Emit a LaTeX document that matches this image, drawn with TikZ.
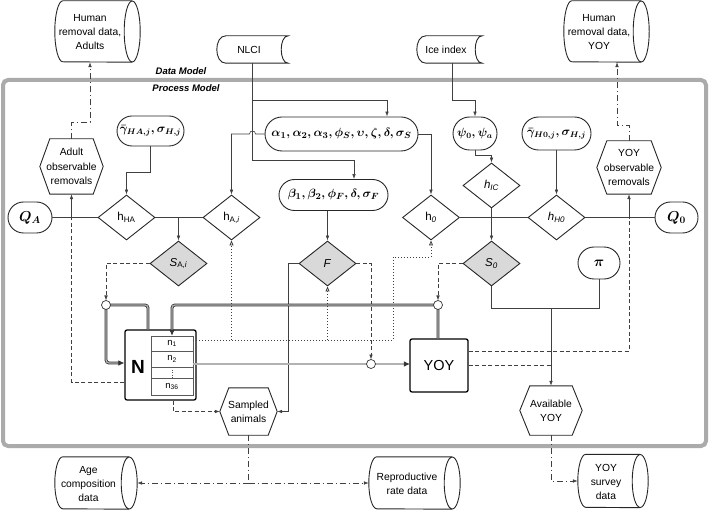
\documentclass[tikz,border=0pt]{standalone}
\usepackage{fontspec}
\setmainfont{Liberation Sans}
\setsansfont{Liberation Sans}
\usepackage{amsmath}
\usetikzlibrary{shapes.geometric,shapes.misc,arrows.meta,calc}
\tikzset{
 shp/.style={draw=black!85, line width=0.9pt},
 txt/.style={font=\fontsize{10.3}{14.3}\selectfont, align=center},
 pill/.style={rounded rectangle, shp, inner sep=0pt},
 mth/.style={font=\fontsize{12}{14}\selectfont\boldmath},
 dia/.style={diamond, shp, inner sep=0pt, font=\fontsize{11.5}{13}\selectfont},
 gdia/.style={dia, fill=black!15},
 boxn/.style={rectangle, rounded corners=2pt, draw=black, line width=1.3pt},
 invis/.style={rectangle, inner sep=0pt, txt},
 ln/.style={draw=black!75, line width=0.6pt},
 dsh/.style={ln, dash pattern=on 4pt off 2.5pt},
 dtd/.style={ln, line width=0.8pt, dash pattern=on 0.9pt off 2.1pt},
 ddot/.style={ln, dash pattern=on 6pt off 3pt on 1pt off 3pt},
 arr/.style={-{Latex[length=5pt,width=3.6pt]}},
 oarr/.style={-{Triangle[open,length=5pt,width=4pt]}},
 dblo/.style={draw=black!80, line width=2.9pt, rounded corners=3pt},
 dbli/.style={draw=black!30, line width=1.3pt, rounded corners=3pt},
 dbarr/.style={draw=black!80, line width=0.75pt, -{Latex[length=6pt,width=5.5pt]}},
 junc/.style={circle, draw=black!80, fill=white, line width=0.7pt, minimum size=9pt, inner sep=0pt},
}
\newcommand\hexdraw[2]{\draw[shp] (#1.west) -- ([xshift=#2]#1.north west) -- ([xshift=-#2]#1.north east) -- (#1.east) -- ([xshift=-#2]#1.south east) -- ([xshift=#2]#1.south west) -- cycle;}
\newcommand\storedraw[1]{\draw[shp] ([xshift=9pt]#1.north west) -- (#1.north east) .. controls ([xshift=-9.3pt]#1.north east) and ([xshift=-9.3pt]#1.south east) .. (#1.south east) -- ([xshift=9pt]#1.south west) .. controls ([xshift=-3pt]#1.south west) and ([xshift=-3pt]#1.north west) .. cycle;}
% cylinder: node name, half height
\newcommand\cyldraw[2]{%
 \draw[shp] ([xshift=-8pt]#1.east) ellipse [x radius=8pt, y radius=#2];
 \draw[shp] ([xshift=-8pt]#1.north east) -- ([xshift=8pt]#1.north west) arc[start angle=90, end angle=270, x radius=8pt, y radius=#2] -- ([xshift=-8pt]#1.south east);}
\begin{document}
\begin{tikzpicture}[x=1pt,y=-1pt]
\useasboundingbox (0,0) rectangle (709,510);
% frame
\draw[line width=4pt, draw=black!33, rounded corners=5pt] (3,80) rectangle (706,446);
\node[font=\bfseries\itshape\fontsize{9.5}{11}\selectfont] (dm) at (181,71) {Data Model};
\node[font=\bfseries\itshape\fontsize{9.5}{11}\selectfont] (pm) at (186,88) {Process Model};

% data cylinders
\node[invis, minimum width=85pt, minimum height=61pt] (cylA) at (97.5,31.5) {};
\cyldraw{cylA}{30.5pt}
\node[txt] (cylAt) at (90,32) {Human\\removal data,\\Adults};
\node[invis, minimum width=85pt, minimum height=61pt] (cylY) at (606.5,31.5) {};
\cyldraw{cylY}{30.5pt}
\node[txt] (cylYt) at (599,32) {Human\\removal data,\\YOY};
\node[invis, minimum width=82pt, minimum height=52pt] (cylAge) at (96,483) {};
\cyldraw{cylAge}{26pt}
\node[txt] (cylAget) at (88.5,484) {Age\\composition\\data};
\node[invis, minimum width=91pt, minimum height=52pt] (cylRep) at (414.5,483) {};
\cyldraw{cylRep}{26pt}
\node[txt] (cylRept) at (407,483.5) {Reproductive\\rate data};
\node[invis, minimum width=70pt, minimum height=53pt] (cylSurv) at (613,481) {};
\cyldraw{cylSurv}{26.5pt}
\node[txt] (cylSurvt) at (606,482) {YOY\\survey\\data};

% stored data
\node[invis, minimum width=71pt, minimum height=27pt] (nlci) at (252.5,49.5) {};
\storedraw{nlci}
\node[txt] (nlcit) at (249,49.5) {NLCI};
\node[invis, minimum width=65pt, minimum height=27pt] (ice) at (449.5,49.5) {};
\storedraw{ice}
\node[txt] (icet) at (446,49.5) {Ice index};

% pills
\node[pill, mth, minimum width=67pt, minimum height=30pt] (gHA) at (150.5,131) {$\bar{\gamma}_{HA,j},\sigma_{H,j}$};
\node[pill, mth, font=\fontsize{13}{15}\selectfont\boldmath, minimum width=153pt, minimum height=34pt] (alpha) at (341.5,134) {$\alpha_1,\alpha_2,\alpha_3,\phi_S,\upsilon,\zeta,\delta,\sigma_S$};
\node[pill, mth, minimum width=44pt, minimum height=33pt] (psi) at (475,133.5) {$\psi_0,\psi_a$};
\node[pill, mth, minimum width=69pt, minimum height=33pt] (gH0) at (556.5,133.5) {$\bar{\gamma}_{H0,j},\sigma_{H,j}$};
\node[pill, mth, font=\fontsize{13}{15}\selectfont\boldmath, minimum width=109pt, minimum height=31pt] (beta) at (333.5,195) {$\beta_1,\beta_2,\phi_F,\delta,\sigma_F$};
\node[pill, mth, font=\fontsize{14}{15}\selectfont\boldmath, minimum width=42pt, minimum height=32pt] (pi) at (599,263) {$\pi$};
\node[pill, mth, font=\fontsize{14}{15}\selectfont\boldmath, minimum width=44pt, minimum height=31pt] (QA) at (30,217.5) {$Q_A$};
\node[pill, mth, font=\fontsize{14}{15}\selectfont\boldmath, minimum width=43pt, minimum height=31pt] (Q0) at (676.5,217.5) {$Q_0$};

% hexagons
\node[invis, minimum width=63pt, minimum height=55pt] (hexA) at (71.5,166.5) {Adult\\observable\\removals};
\hexdraw{hexA}{10pt}
\node[invis, minimum width=64pt, minimum height=53pt] (hexY) at (629,167.5) {YOY\\observable\\removals};
\hexdraw{hexY}{10pt}
\node[invis, minimum width=57pt, minimum height=47pt] (samp) at (248.5,411.5) {Sampled\\animals};
\hexdraw{samp}{9pt}
\node[invis, minimum width=62pt, minimum height=49pt] (avail) at (551,410.5) {Available\\YOY};
\hexdraw{avail}{10pt}

% diamonds
\node[dia, minimum width=57pt, minimum height=45pt] (hHA) at (126.5,217.5) {h\textsubscript{HA}};
\node[dia, minimum width=57pt, minimum height=45pt] (hAi) at (231.5,217.5) {h\textsubscript{A,\textit{i}}};
\node[dia, minimum width=57pt, minimum height=45pt] (h0) at (431,217.5) {h\textsubscript{\textit{0}}};
\node[dia, minimum width=57pt, minimum height=45pt] (hIC) at (491.5,185.5) {\textit{h}\textsubscript{\textit{IC}}};
\node[dia, minimum width=57pt, minimum height=45pt] (hH0) at (556.5,217.5) {\textit{h}\textsubscript{\textit{H0}}};
\node[gdia, minimum width=57pt, minimum height=45pt] (SAi) at (178.5,263.5) {\textit{S}\textsubscript{A,\textit{i}}};
\node[gdia, minimum width=57pt, minimum height=45pt] (F) at (327.5,263.5) {\textit{F}};
\node[gdia, minimum width=57pt, minimum height=45pt] (S0) at (491.5,263.5) {\textit{S}\textsubscript{\textit{0}}};

% N box and YOY box
\node[boxn, minimum width=71pt, minimum height=70pt] (N) at (160.5,365) {};
\node[font=\bfseries\fontsize{19}{20}\selectfont] (Nt) at (138,367) {N};
\node[rectangle, draw=black!65, line width=0.6pt, minimum width=42pt, minimum height=59pt, inner sep=0pt] (tbl) at (172,365.5) {};
\draw[draw=black!65, line width=0.6pt] (151,351) -- (193,351) (151,367) -- (193,367) (151,378) -- (193,378);
\draw[draw=black!65, line width=0.6pt, dash pattern=on 1pt off 1.5pt] (172,367) -- (172,378);
\node[font=\fontsize{9.5}{10}\selectfont] (n1) at (172,343.5) {n\textsubscript{1}};
\node[font=\fontsize{9.5}{10}\selectfont] (n2) at (172,359) {n\textsubscript{2}};
\node[font=\fontsize{9.5}{10}\selectfont] (n36) at (172,386.5) {n\textsubscript{36}};
\node[boxn, minimum width=58pt, minimum height=53pt, font=\fontsize{14.5}{15}\selectfont] (YOY) at (439,365.5) {YOY};

% junction points
\coordinate (c1) at (106,305);
\coordinate (c2) at (438,305);
\coordinate (c3) at (371,364);
\coordinate (t2) at (193.3,364);
\coordinate (y2) at (409.9,364);

% thin connectors
\draw[ddot,arr] (hexA.north) -- (hexA.north |- 0,122) -| ([xshift=-7.5pt]cylA.south);
\draw[ddot,arr] (hexY.north) -- (hexY.north |- 0,125) -| ([xshift=10.5pt]cylY.south);
\draw[ln] (QA.east) -- (hHA.west);
\draw[ln,arr] (hexA.south |- QA.east) -- (hexA.south);
\draw[dsh] (N.west |- 0,382) -| (hexA.south |- QA.east);
\draw[ln,arr] (gHA.south) -- (gHA.south |- 0,172) -| (hHA.north);
\draw[ln] (hHA.east) -- (hAi.west);
\draw[ln,arr] (SAi.north |- hHA.east) -- (SAi.north);
\draw[ln,arr] (nlci.south) |- (387,100) -- (alpha.north -| 387,0);
\draw[ln,arr] (nlci.south) -- (252.5,160) -| (beta.north -| 354,0);
\draw[ln,arr] (alpha.west) -- (255.5,134) .. controls (255.5,130) and (249.5,130) .. (249.5,134) -| (hAi.north);
\draw[ln,arr] (alpha.east) -| (h0.north);
\draw[ln,arr] (ice.south -| 452,0) |- (psi.north |- 0,100) -- (psi.north);
\draw[ln,arr] (psi.south) -- (psi.south |- 0,155) -| (hIC.north);
\draw[ln,arr] (gH0.south) -- (hH0.north);
\draw[ln] (h0.east) -- (hH0.west);
\draw[ln,arr] (hIC.south) -- (S0.north);
\draw[ln] (hH0.east) -- (Q0.west);
\draw[ln,arr] (hexY.south |- Q0.west) -- (hexY.south);
\draw[ln,arr] (beta.south -| F.north) -- (F.north);
\draw[dsh,arr] (SAi.west) -| ([yshift=4.5pt]c1);
\draw[dsh,arr] (S0.west) -| ([yshift=4.5pt]c2);
\draw[dsh,arr] (F.east) -| ([yshift=4.5pt]c3);
\draw[ln,arr] (F.west) -| (samp.east -| 288,0) -- (samp.east);
\draw[ln] (S0.south) -- (S0.south |- 0,308) -| (pi.south);
\draw[ln,arr] (avail.north |- 0,308) -- (avail.north);
\draw[dsh] (YOY.east |- 0,351) -| (hexY.south |- Q0.west);
\draw[dsh] (YOY.east |- 0,365) -- (avail.north |- 0,365);
\draw[dsh,arr] (N.south -| 173,0) |- (samp.west);
\draw[dtd,oarr] (tbl.east |- 0,340) -| (393,257) -| (h0.south);
\draw[dtd,oarr] (hAi.south |- 0,340) -- (hAi.south);
\draw[dtd,oarr] (F.south |- 0,340) -- (F.south);
\draw[ddot] (samp.south) -- (samp.south |- 0,483);
\draw[ddot,arr] (samp.south |- 0,483) -- (cylAge.east |- 0,483);
\draw[ddot,arr] (samp.south |- 0,483) -- (cylRep.west);
\draw[ddot,arr] (avail.south) |- (cylSurv.west);

% double flow lines
\draw[dblo, shorten >=5pt] (N.north -| 148,0) -- (148,305) -- (c1) -- (106,363) -- (N.west |- 0,363);
\draw[dbli, shorten >=5pt] (N.north -| 148,0) -- (148,305) -- (c1) -- (106,363) -- (N.west |- 0,363);
\draw[dblo, shorten >=5pt] (YOY.north -| 438,0) -- (c2) -- (172,305) -- (tbl.north);
\draw[dbli, shorten >=5pt] (YOY.north -| 438,0) -- (c2) -- (172,305) -- (tbl.north);
\draw[dblo, shorten >=5pt] (t2) -- (y2);
\draw[dbli, shorten >=5pt] (t2) -- (y2);
\draw[dbarr] (119,363) -- (N.west |- 0,363);
\draw[dbarr] (172,330) -- (tbl.north);
\draw[dbarr] (403.9,364) -- (y2);
\node[junc] (j1) at (c1) {};
\node[junc] (j2) at (c2) {};
\node[junc] (j3) at (c3) {};
\end{tikzpicture}
\end{document}
